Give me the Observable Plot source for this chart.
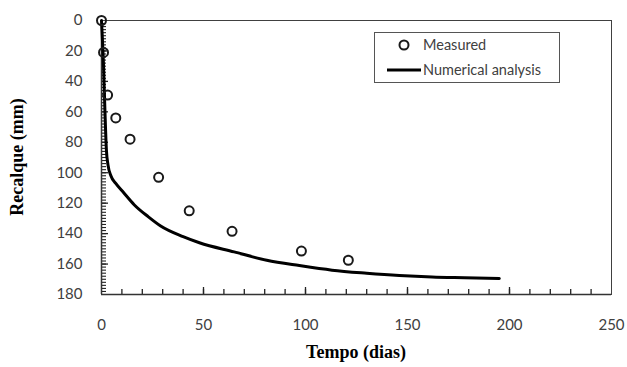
<!DOCTYPE html>
<html>
<head>
<meta charset="utf-8">
<script src="https://cdn.jsdelivr.net/npm/d3@7"></script>
<script src="https://cdn.jsdelivr.net/npm/@observablehq/plot@0.6"></script>
<style>
  html, body { margin: 0; padding: 0; background: #fff; }
  #chart { width: 627px; height: 367px; }
</style>
</head>
<body>
<div id="chart"></div>
<script>
// Measured settlement
const measuredDays = [0, 1, 3, 7, 14, 28, 43, 64, 98, 121];
const measuredSettle = [0, 21, 49, 64, 78, 103, 125, 138.5, 151.5, 157.5];
// Numerical analysis curve
const modelDays = [0, 1, 1.7, 2.4, 3.2, 4.6, 7, 10.8, 16, 23, 29, 40, 48, 65, 81, 97, 113, 130, 146, 162, 178, 195];
const modelSettle = [0, 30, 60, 85, 95, 102, 107, 113, 121, 129, 135, 142, 146, 152, 157.5, 161, 164, 166, 167.5, 168.5, 169, 169.5];
// Axis ticks
const xTicks = [0, 50, 100, 150, 200, 250];
const yTicks = [0, 20, 40, 60, 80, 100, 120, 140, 160, 180];
const xMinor = d3.range(10, 250, 10);
const yMinor = d3.range(2, 180, 2);
const xTitle = "Tempo (dias)";
const yTitle = "Recalque (mm)";
const legendLabels = ["Measured", "Numerical analysis"];

const measured = measuredDays.map((d, i) => ({x: d, y: measuredSettle[i]}));
const model = modelDays.map((d, i) => ({x: d, y: modelSettle[i]}));

const W = 627, H = 367, mL = 101, mR = 16, mT = 20, mB = 73;
const innerW = W - mL - mR, innerH = H - mT - mB;
// convert tick lengths (px) to data units
const xPx = 250 / innerW, yPx = 180 / innerH;

const plot = Plot.plot({
  width: W, height: H,
  marginLeft: mL, marginRight: mR, marginTop: mT, marginBottom: mB,
  style: {fontFamily: "Lato, sans-serif", background: "#fff"},
  x: {domain: [0, 250]},
  y: {domain: [0, 180], reverse: true},
  marks: [
    Plot.axisX(xTicks, {tickSize: 0, tickPadding: 25, fontSize: 15, color: "#404040", label: null}),
    Plot.axisY(yTicks, {tickSize: 0, tickPadding: 19, fontSize: 15, color: "#404040", label: null}),
    // minor ticks (inward)
    Plot.ruleX(xMinor, {x: d => d, y1: 180, y2: 180 - 5 * yPx, stroke: "#222", strokeWidth: 1.3}),
    Plot.ruleX(xTicks.filter(t => t > 0 && t < 250), {x: d => d, y1: 180, y2: 180 - 7 * yPx, stroke: "#222", strokeWidth: 1.3}),
    Plot.ruleY(yMinor, {y: d => d, x1: 0, x2: 5 * xPx, stroke: "#222", strokeWidth: 1.1}),
    Plot.ruleY(yTicks.filter(t => t > 0 && t < 180), {y: d => d, x1: 0, x2: 7 * xPx, stroke: "#222", strokeWidth: 1.3}),
    Plot.frame({stroke: "#404040", strokeWidth: 1}),
    Plot.ruleX([0], {stroke: "#333", strokeWidth: 1.5}),
    Plot.ruleY([180], {stroke: "#333", strokeWidth: 1.5}),
    Plot.line(model, {x: "x", y: "y", stroke: "#000", strokeWidth: 3, curve: "monotone-x"}),
    Plot.dot(measured, {x: "x", y: "y", r: 4.5, stroke: "#1a1a1a", strokeWidth: 2, fill: "none"})
  ]
});

document.getElementById("chart").appendChild(plot);

const svg = d3.select(plot);
// Axis titles
svg.append("text")
  .attr("x", mL + innerW / 2).attr("y", 358)
  .attr("text-anchor", "middle")
  .attr("font-family", "'Liberation Serif', 'Times New Roman', serif")
  .attr("font-weight", "bold").attr("font-size", 18).attr("fill", "#000")
  .text(xTitle);
svg.append("text")
  .attr("transform", `translate(23, ${mT + innerH / 2}) rotate(-90)`)
  .attr("text-anchor", "middle")
  .attr("font-family", "'Liberation Serif', 'Times New Roman', serif")
  .attr("font-weight", "bold").attr("font-size", 18).attr("fill", "#000")
  .text(yTitle);

// Legend
const lg = svg.append("g").attr("text-anchor", "start");
lg.append("rect").attr("x", 374.5).attr("y", 32.5).attr("width", 185).attr("height", 50)
  .attr("fill", "#fff").attr("stroke", "#555").attr("stroke-width", 1);
lg.append("circle").attr("cx", 404).attr("cy", 45).attr("r", 4.5)
  .attr("fill", "none").attr("stroke", "#1a1a1a").attr("stroke-width", 2);
lg.append("line").attr("x1", 387).attr("x2", 421).attr("y1", 70).attr("y2", 70)
  .attr("stroke", "#000").attr("stroke-width", 3);
lg.append("text").attr("x", 423).attr("y", 50).attr("text-anchor", "start")
  .attr("font-family", "Lato, sans-serif").attr("font-size", 14.5).attr("fill", "#404040")
  .text(legendLabels[0]);
lg.append("text").attr("x", 423).attr("y", 75).attr("text-anchor", "start")
  .attr("font-family", "Lato, sans-serif").attr("font-size", 14.5).attr("fill", "#404040")
  .text(legendLabels[1]);
</script>
</body>
</html>
